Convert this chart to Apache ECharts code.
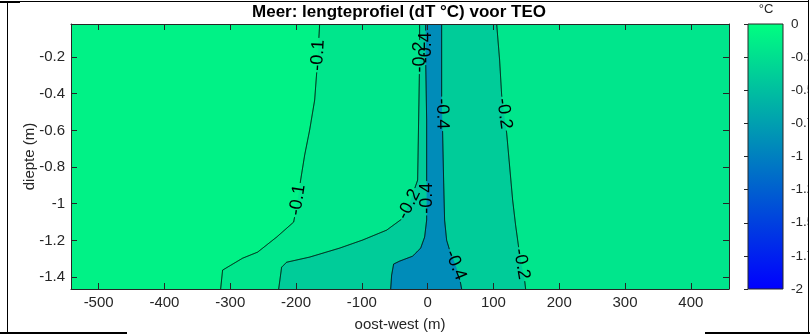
<!DOCTYPE html>
<html><head><meta charset="utf-8">
<script src="https://cdn.jsdelivr.net/npm/echarts@6/dist/echarts.min.js"></script>
<style>html,body{margin:0;padding:0;background:#fff}#c{width:810px;height:336px}</style>
</head><body><div id="c"></div>
<script>
// ---- data ----
const xRange = [-542, 458];
const yRange = [-1.465, -0.02];
const xTicks = [-500, -400, -300, -200, -100, 0, 100, 200, 300, 400];
const yTicks = [-1.4, -1.2, -1, -0.8, -0.6, -0.4, -0.2];
const cbRange = [-2, 0];
const cbTicks = [-2, -1.75, -1.5, -1.25, -1, -0.75, -0.5, -0.25, 0];

// contour lines (x m, depth m), ordered top -> bottom
const c010 = [[-164.1,-0.02],[-167.2,-0.217],[-171.7,-0.435],[-179.3,-0.598],[-186.9,-0.735],[-193.0,-0.871],[-197.6,-0.98],[-203.6,-1.1],[-229.5,-1.182],[-258.4,-1.264],[-281.2,-1.297],[-311.6,-1.362],[-314.6,-1.465]];
const c020L = [[-12.2,-0.02],[-12.2,-0.217],[-13.7,-0.544],[-15.2,-0.871],[-27.4,-0.997],[-39.5,-1.084],[-62.3,-1.144],[-98.8,-1.198],[-133.7,-1.242],[-179.3,-1.291],[-214.3,-1.319],[-221.9,-1.346],[-226.4,-1.465]];
const c040L = [[-3.0,-0.02],[-3.0,-0.217],[-1.5,-0.544],[-1.5,-0.871],[-1.5,-1.089],[-4.6,-1.182],[-10.6,-1.242],[-22.8,-1.286],[-42.6,-1.313],[-51.7,-1.329],[-54.7,-1.389],[-56.2,-1.465]];
const c040R = [[21.3,-0.02],[21.3,-0.418],[22.8,-0.615],[24.3,-0.871],[25.8,-1.089],[28.9,-1.199],[33.4,-1.253],[42.6,-1.335],[48.6,-1.406],[51.7,-1.465]];
const c020R = [[104.9,-0.02],[109.4,-0.217],[112.5,-0.408],[120.1,-0.615],[123.1,-0.735],[129.2,-0.98],[133.7,-1.117],[138.3,-1.237],[142.9,-1.335],[147.4,-1.417],[148.9,-1.465]];
const contourLines = [c010, c020L, c040L, c040R, c020R];
const contourLevels = [-0.1, -0.2, -0.4, -0.4, -0.2];
// fill value of each band: > -0.1, -0.2..-0.1, -0.4..-0.2, < -0.4
const bandValues = [-0.1, -0.2, -0.4, -0.9];
// contour labels: [line index, x, depth]
const labelPos = [
  [0, -167, -0.19], [0, -197, -0.98],
  [1, -12, -0.2], [1, -30, -1.0],
  [2, -3, -0.15], [2, -1.5, -0.97],
  [3, 21.3, -0.51], [3, 42.6, -1.335],
  [4, 115, -0.51], [4, 141, -1.33]
];

// ---- style ----
const labelDir = [1, 1, 1, -1, -1]; // 1 reads upward, -1 downward
const FONT = '"Liberation Sans", Arial, Helvetica, sans-serif';
const AX = '#262626';
function winter(v) {
  const t = Math.max(0, Math.min(1, (v - cbRange[0]) / (cbRange[1] - cbRange[0])));
  return 'rgb(0,' + Math.round(255 * t) + ',' + Math.round(255 - 127.5 * t) + ')';
}

const chart = echarts.init(document.getElementById('c'), null, {renderer: 'canvas'});

function fillRender(params, api) {
  const px = pts => pts.map(p => api.coord(p));
  const tl = api.coord([xRange[0], yRange[1]]), br = api.coord([xRange[1], yRange[0]]);
  const ch = [];
  ch.push({type: 'rect', shape: {x: tl[0], y: tl[1], width: br[0] - tl[0], height: br[1] - tl[1]}, style: {fill: winter(bandValues[0])}});
  ch.push({type: 'polygon', shape: {points: px(c010.concat([[xRange[1], yRange[0]], [xRange[1], yRange[1]]]))}, style: {fill: winter(bandValues[1])}});
  ch.push({type: 'polygon', shape: {points: px(c020L.concat(c020R.slice().reverse()))}, style: {fill: winter(bandValues[2])}});
  ch.push({type: 'polygon', shape: {points: px(c040L.concat(c040R.slice().reverse()))}, style: {fill: winter(bandValues[3])}});
  return {type: 'group', children: ch};
}

function lineRender(params, api) {
  const ch = [];
  const R = 17;
  contourLines.forEach((c, ci) => {
    const pts = c.map(p => api.coord(p));
    const labs = labelPos.filter(l => l[0] === ci).map(l => {
      const p = api.coord([l[1], l[2]]);
      let best = null;
      for (let i = 0; i < pts.length - 1; i++) {
        const a = pts[i], b = pts[i + 1];
        const dx = b[0] - a[0], dy = b[1] - a[1];
        const L2 = dx * dx + dy * dy;
        let t = L2 ? ((p[0] - a[0]) * dx + (p[1] - a[1]) * dy) / L2 : 0;
        t = Math.max(0, Math.min(1, t));
        const q = [a[0] + dx * t, a[1] + dy * t];
        const d = Math.hypot(q[0] - p[0], q[1] - p[1]);
        if (!best || d < best.d) best = {d, q, dx, dy};
      }
      return best;
    });
    const segs = []; let cur = [];
    for (let i = 0; i < pts.length - 1; i++) {
      const a = pts[i], b = pts[i + 1];
      const n = Math.max(1, Math.ceil(Math.hypot(b[0] - a[0], b[1] - a[1]) / 0.5));
      for (let k = (i === 0 ? 0 : 1); k <= n; k++) {
        const t = k / n;
        const p = [a[0] + (b[0] - a[0]) * t, a[1] + (b[1] - a[1]) * t];
        const hidden = labs.some(l => Math.hypot(p[0] - l.q[0], p[1] - l.q[1]) < R);
        if (hidden) { if (cur.length > 1) segs.push(cur); cur = []; }
        else cur.push(p);
      }
    }
    if (cur.length > 1) segs.push(cur);
    segs.forEach(s => ch.push({type: 'polyline', shape: {points: s}, style: {stroke: '#000', lineWidth: 1, fill: null}}));
    labs.forEach(l => {
      let dx = l.dx, dy = l.dy;
      if (labelDir[ci] * dy > 0) { dx = -dx; dy = -dy; }
      ch.push({type: 'text', x: l.q[0], y: l.q[1], rotation: Math.atan2(-dy, dx),
        style: {text: String(contourLevels[ci]), fontSize: 18, fontFamily: FONT, fill: '#000', align: 'center', verticalAlign: 'middle'}});
    });
  });
  return {type: 'group', children: ch};
}

function cbRender(params, api) {
  const a = api.coord([0, cbRange[1]]), b = api.coord([1, cbRange[0]]);
  return {type: 'rect', shape: {x: a[0], y: a[1], width: b[0] - a[0], height: b[1] - a[1]},
    style: {fill: new echarts.graphic.LinearGradient(0, 0, 0, 1, [{offset: 0, color: winter(cbRange[1])}, {offset: 1, color: winter(cbRange[0])}]), stroke: AX, lineWidth: 1}};
}

const lineStyleAx = {color: AX, width: 1};
const frame = {stroke: '#000', lineWidth: 1};
const option = {
  animation: false,
  graphic: [
    {type: 'text', x: 399, y: 12, style: {text: 'Meer: lengteprofiel (dT °C) voor TEO', font: 'bold 17px ' + FONT, fill: '#000', align: 'center', verticalAlign: 'middle', textAlign: 'center', textVerticalAlign: 'middle'}},
    {type: 'text', x: 766, y: 9, style: {text: '°C', font: '13px ' + FONT, fill: AX, align: 'center', verticalAlign: 'middle', textAlign: 'center', textVerticalAlign: 'middle'}},
    {type: 'line', z: 100, shape: {x1: 7.5, y1: 1.5, x2: 808.5, y2: 1.5}, style: frame},
    {type: 'line', z: 100, shape: {x1: 0, y1: 2, x2: 20, y2: 2}, style: {stroke: '#000', lineWidth: 2}},
    {type: 'line', z: 100, shape: {x1: 7.5, y1: 1.5, x2: 7.5, y2: 332}, style: frame},
    {type: 'rect', z: 99, shape: {x: 809, y: 0, width: 1, height: 336}, style: {fill: '#fff'}},
    {type: 'line', z: 100, shape: {x1: 808.5, y1: 0, x2: 808.5, y2: 332}, style: frame},
    {type: 'line', z: 100, shape: {x1: 0, y1: 333, x2: 127, y2: 333}, style: {stroke: '#000', lineWidth: 2}},
    {type: 'line', z: 100, shape: {x1: 705, y1: 333, x2: 810, y2: 333}, style: {stroke: '#000', lineWidth: 2}}
  ],
  grid: [
    {left: 71, top: 24, width: 658, height: 265, outerBoundsMode: 'none', containLabel: false},
    {left: 748, top: 24, width: 35, height: 265, outerBoundsMode: 'none', containLabel: false}
  ],
  xAxis: [
    {gridIndex: 0, type: 'value', min: xRange[0], max: xRange[1], position: 'bottom', z: 10,
      axisLine: {show: true, onZero: false, lineStyle: lineStyleAx}, splitLine: {show: false},
      axisTick: {show: true, inside: true, length: 6, customValues: xTicks, lineStyle: lineStyleAx},
      axisLabel: {customValues: xTicks, fontSize: 15, fontFamily: FONT, color: AX, margin: 6},
      name: 'oost-west (m)', nameLocation: 'middle', nameGap: 28, nameMoveOverlap: false, nameTextStyle: {fontSize: 15, fontFamily: FONT, color: AX}},
    {gridIndex: 0, type: 'value', min: xRange[0], max: xRange[1], position: 'top', z: 10,
      axisLine: {show: true, onZero: false, lineStyle: lineStyleAx}, splitLine: {show: false},
      axisTick: {show: true, inside: true, length: 6, customValues: xTicks, lineStyle: lineStyleAx},
      axisLabel: {show: false}},
    {gridIndex: 1, type: 'value', min: 0, max: 1, show: false}
  ],
  yAxis: [
    {gridIndex: 0, type: 'value', min: yRange[0], max: yRange[1], position: 'left', z: 10,
      axisLine: {show: true, onZero: false, lineStyle: lineStyleAx}, splitLine: {show: false},
      axisTick: {show: true, inside: true, length: 6, customValues: yTicks, lineStyle: lineStyleAx},
      axisLabel: {customValues: yTicks, fontSize: 15, fontFamily: FONT, color: AX, margin: 6},
      name: 'diepte (m)', nameLocation: 'middle', nameGap: 34, nameRotate: 90, nameMoveOverlap: false, nameTextStyle: {fontSize: 15, fontFamily: FONT, color: AX}},
    {gridIndex: 0, type: 'value', min: yRange[0], max: yRange[1], position: 'right', z: 10,
      axisLine: {show: true, onZero: false, lineStyle: lineStyleAx}, splitLine: {show: false},
      axisTick: {show: true, inside: true, length: 6, customValues: yTicks, lineStyle: lineStyleAx},
      axisLabel: {show: false}},
    {gridIndex: 1, type: 'value', min: cbRange[0], max: cbRange[1], position: 'right', z: 10,
      axisLine: {show: false}, splitLine: {show: false},
      axisTick: {show: true, inside: true, length: 4, customValues: cbTicks, lineStyle: lineStyleAx},
      axisLabel: {customValues: cbTicks, fontSize: 13.5, fontFamily: FONT, color: AX, margin: 8}}
  ],
  series: [
    {type: 'custom', xAxisIndex: 0, yAxisIndex: 0, renderItem: fillRender, data: [[xRange[0], yRange[0]]], z: 1, silent: true},
    {type: 'custom', xAxisIndex: 0, yAxisIndex: 0, renderItem: lineRender, data: [[xRange[0], yRange[0]]], z: 2, silent: true},
    {type: 'custom', xAxisIndex: 2, yAxisIndex: 2, renderItem: cbRender, data: [[0, cbRange[0]]], z: 1, silent: true}
  ]
};
chart.setOption(option);
</script>
</body></html>
